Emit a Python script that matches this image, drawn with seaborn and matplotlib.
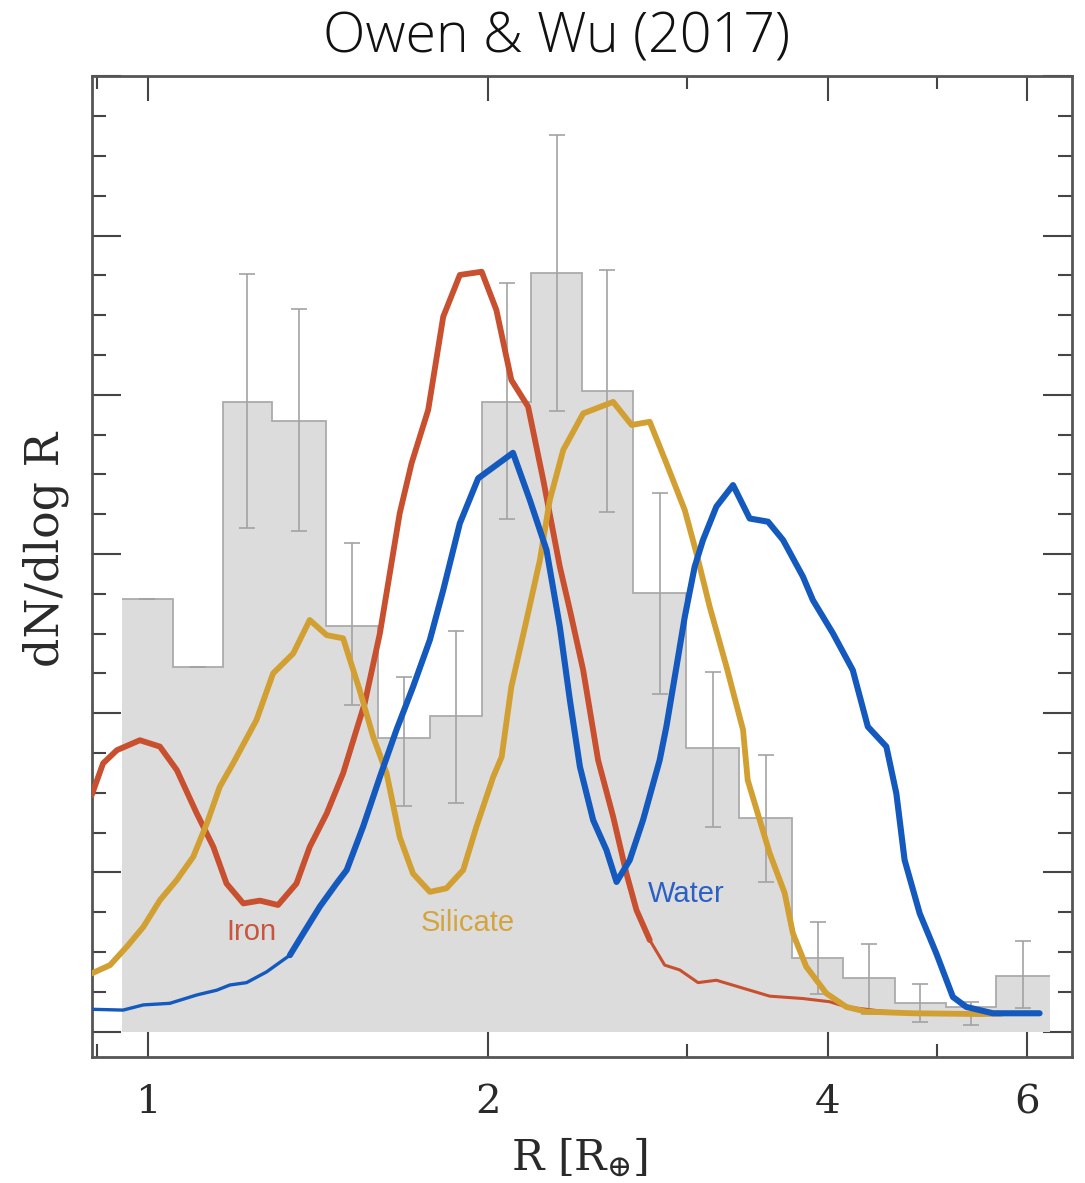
import numpy as np
import matplotlib
matplotlib.use("Agg")
import matplotlib.pyplot as plt
import seaborn as sns
from matplotlib.ticker import FixedLocator, FixedFormatter, NullFormatter, MultipleLocator

# ---------------- data ----------------
bin_edges = [0.947, 1.051, 1.164, 1.287, 1.437, 1.599, 1.776, 1.974, 2.185,
             2.420, 2.688, 2.997, 3.339, 3.721, 4.124, 4.582, 5.092, 5.638, 6.286]
bin_heights = [10.86, 9.17, 15.81, 15.34, 10.19, 7.37, 7.93, 15.82, 19.07,
               16.10, 11.01, 7.12, 5.36, 1.85, 1.34, 0.72, 0.62, 1.39]
err_lo = [0.0, 0.0, 3.15, 2.76, 1.99, 1.70, 2.18, 2.95, 3.47,
          3.04, 2.53, 1.97, 1.60, 0.90, 0.91, 0.49, 0.46, 0.81]
err_hi = [0.0, 0.0, 3.22, 2.81, 2.08, 1.53, 2.13, 2.99, 3.45,
          3.03, 2.53, 1.92, 1.60, 0.91, 0.85, 0.47, 0.13, 0.88]

iron_R = [0.891, 0.912, 0.938, 0.983, 1.024, 1.060, 1.104, 1.142, 1.173, 1.214,
          1.256, 1.303, 1.353, 1.390, 1.439, 1.488, 1.555, 1.604, 1.670, 1.711,
          1.770, 1.825, 1.888, 1.974, 2.034, 2.097, 2.170, 2.238, 2.315, 2.363,
          2.428, 2.503, 2.581, 2.652, 2.707, 2.781]
iron_y = [5.94, 6.74, 7.07, 7.32, 7.16, 6.57, 5.48, 4.64, 3.72, 3.22,
          3.29, 3.18, 3.72, 4.64, 5.48, 6.49, 8.25, 10.01, 13.02, 14.28,
          15.62, 17.96, 19.01, 19.09, 18.13, 16.37, 15.70, 13.86, 11.68, 10.59,
          9.08, 6.82, 5.40, 3.97, 3.05, 2.30]
iron_tail_R = [2.781, 2.867, 2.956, 3.069, 3.186, 3.364, 3.552, 3.801, 4.014,
               4.153, 4.444, 4.757, 5.304]
iron_tail_y = [2.30, 1.67, 1.55, 1.23, 1.29, 1.09, 0.89, 0.83, 0.75,
               0.62, 0.52, 0.47, 0.46]

sil_R = [0.891, 0.925, 0.957, 0.990, 1.024, 1.060, 1.096, 1.127, 1.157, 1.189,
         1.247, 1.290, 1.344, 1.390, 1.439, 1.488, 1.539, 1.582, 1.626, 1.670,
         1.716, 1.776, 1.837, 1.901, 1.953, 2.021, 2.056, 2.097, 2.163, 2.223,
         2.268, 2.331, 2.428, 2.581, 2.680, 2.781, 2.877, 2.987, 3.059, 3.143,
         3.252, 3.364, 3.396, 3.552, 3.662, 3.724, 3.827, 3.987, 4.153, 4.325,
         4.757, 5.449, 5.700]
sil_y = [1.46, 1.67, 2.13, 2.63, 3.30, 3.81, 4.39, 5.23, 6.15, 6.74,
         7.83, 9.00, 9.50, 10.34, 9.96, 9.88, 8.58, 7.41, 6.49, 4.89,
         3.97, 3.51, 3.60, 4.06, 5.15, 6.40, 6.90, 8.66, 10.34, 11.85,
         13.35, 14.61, 15.53, 15.82, 15.24, 15.32, 14.28, 13.10, 12.02, 10.67,
         9.17, 7.58, 6.32, 4.48, 3.48, 2.47, 1.63, 0.96, 0.62, 0.50,
         0.46, 0.44, 0.45]

water_thin_R = [0.891, 0.950, 0.990, 1.045, 1.104, 1.150, 1.181, 1.222, 1.273, 1.335]
water_thin_y = [0.56, 0.54, 0.67, 0.71, 0.92, 1.04, 1.17, 1.23, 1.50, 1.92]
water_R = [1.335, 1.372, 1.419, 1.468, 1.499, 1.550, 1.604, 1.659, 1.716, 1.776,
           1.825, 1.888, 1.960, 2.104, 2.178, 2.253, 2.315, 2.363, 2.412, 2.478,
           2.546, 2.599, 2.670, 2.743, 2.838, 2.877, 2.937, 2.987, 3.048, 3.100,
           3.186, 3.296, 3.410, 3.540, 3.650, 3.801, 3.879, 4.040, 4.208, 4.339,
           4.506, 4.599, 4.677, 4.823, 4.990, 5.161, 5.304, 5.599, 6.159]
water_y = [1.92, 2.47, 3.14, 3.72, 4.06, 5.15, 6.40, 7.58, 8.66, 9.84,
           11.09, 12.77, 13.90, 14.54, 13.35, 12.10, 10.17, 8.33, 6.65, 5.31,
           4.56, 3.76, 4.31, 5.31, 6.82, 7.66, 9.17, 10.42, 11.68, 12.35,
           13.19, 13.73, 12.89, 12.81, 12.35, 11.43, 10.84, 10.01, 9.08, 7.66,
           7.16, 5.98, 4.31, 2.97, 1.96, 0.87, 0.62, 0.46, 0.46]

labels_text = ["Iron", "Silicate", "Water"]
labels_R = [1.235, 1.919, 2.997]
labels_y = [2.30, 2.53, 3.26]

x_ticks = [1, 2, 4, 6]
x_tick_labels = ["1", "2", "4", "6"]
x_minor_ticks = [0.9, 3, 5]

# ---------------- styling ----------------
sns.set_theme(style="white")
plt.rcParams["font.family"] = ["DejaVu Serif"]
plt.rcParams["mathtext.fontset"] = "dejavuserif"

IRON = "#c8502f"
SIL = "#d2a032"
WATER = "#1459be"

fig = plt.figure(figsize=(10.85, 11.83), dpi=100)
ax = fig.add_axes([0.0845, 0.1068, 0.9035, 0.8287])
ax.set_xscale("log")

edges = np.array(bin_edges)
heights = np.array(bin_heights)
centers = np.sqrt(edges[:-1] * edges[1:])

ax.stairs(heights, edges, fill=True, color="#dcdcdc", zorder=1)
ax.stairs(heights, edges, fill=False, baseline=None, edgecolor="#ababab",
          linewidth=1.3, zorder=1.5)
ax.errorbar(centers, heights, yerr=[err_lo, err_hi], fmt="none",
            ecolor="#a3a3a3", elinewidth=1.2, capsize=6, capthick=1.2, zorder=2)

sns.lineplot(x=iron_R, y=iron_y, sort=False, estimator=None, color=IRON,
             linewidth=4.2, ax=ax, zorder=3)
sns.lineplot(x=iron_tail_R, y=iron_tail_y, sort=False, estimator=None, color=IRON,
             linewidth=2.2, ax=ax, zorder=3)
sns.lineplot(x=sil_R, y=sil_y, sort=False, estimator=None, color=SIL,
             linewidth=4.2, ax=ax, zorder=4)
sns.lineplot(x=water_thin_R, y=water_thin_y, sort=False, estimator=None, color=WATER,
             linewidth=2.4, ax=ax, zorder=5)
sns.lineplot(x=water_R, y=water_y, sort=False, estimator=None, color=WATER,
             linewidth=4.4, ax=ax, zorder=5)

label_colors = ["#c8563f", "#d4a43f", "#2a60c6"]
for t, xr, yv, c in zip(labels_text, labels_R, labels_y, label_colors):
    ax.text(xr, yv, t, ha="center", va="baseline", color=c, fontsize=21,
            family=["Liberation Sans", "DejaVu Sans"], zorder=6)

ax.set_xlim(0.891, 6.58)
ax.set_ylim(-0.63, 24)

ax.xaxis.set_major_locator(FixedLocator(x_ticks))
ax.xaxis.set_major_formatter(FixedFormatter(x_tick_labels))
ax.xaxis.set_minor_locator(FixedLocator(x_minor_ticks))
ax.xaxis.set_minor_formatter(NullFormatter())
ax.yaxis.set_major_locator(MultipleLocator(4))
ax.yaxis.set_minor_locator(MultipleLocator(1))

ax.tick_params(which="both", direction="in", top=True, right=True,
               bottom=True, left=True, color="#444444", width=1.5)
ax.tick_params(axis="x", which="major", length=18)
ax.tick_params(axis="x", which="minor", length=9.5)
ax.tick_params(axis="y", which="major", length=21)
ax.tick_params(axis="y", which="minor", length=10)
ax.tick_params(axis="y", labelleft=False, labelright=False)
ax.tick_params(axis="x", labelsize=29, pad=20, labelcolor="#2a2a2a")

for s in ax.spines.values():
    s.set_color("#555555")
    s.set_linewidth(2.0)

ax.set_xlabel(r"R [R$_{\oplus}$]", fontsize=31, color="#2a2a2a", va="center")
ax.xaxis.set_label_coords(0.498, -0.104)
ax.set_ylabel("dN/dlog R", fontsize=33, color="#2a2a2a", va="center")
ax.yaxis.set_label_coords(-0.047, 0.517)

fig.text(0.5134, 0.9679, "Owen & Wu (2017)", ha="center", va="center",
         fontsize=40, color="#111111", fontweight="light",
         family=["Open Sans", "Liberation Sans", "DejaVu Sans"])

fig.savefig("out.png", dpi=100)
